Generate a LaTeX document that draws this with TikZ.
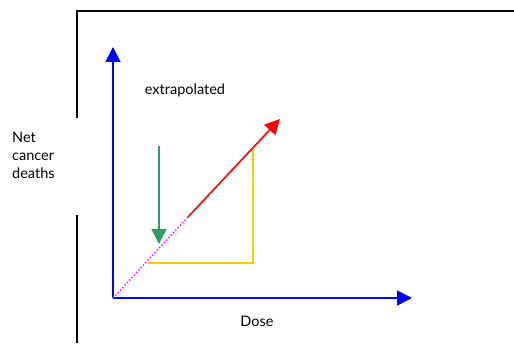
\documentclass[tikz,border=0pt]{standalone}
\usepackage{fontspec}
\setmainfont{Lato}
\usepackage{xcolor}
\usetikzlibrary{arrows.meta, positioning}

\definecolor{azul}{RGB}{0,0,255}
\definecolor{ouro}{RGB}{255,204,0}
\definecolor{verde}{RGB}{51,153,102}
\definecolor{rosa}{RGB}{255,0,255}

\begin{document}
\begin{tikzpicture}[
    x=1pt, y=1pt,
    >={Triangle[length=15pt,width=15pt]},
    moldura/.style={draw=black, line width=2pt},
    eixo/.style={->, draw=azul, line width=1.6pt},
    seta/.style={->, line width=1.6pt},
    rotulo/.style={font=\fontsize{14.5}{18}\selectfont, inner sep=0pt}
]
\useasboundingbox (0,0) rectangle (514,343);

% pontos de referencia
\coordinate (origem) at (113,45);
\coordinate (topoy) at (113,296);
\coordinate (fimx) at (412,45);
\coordinate (quebra) at (188,126);
\coordinate (pontared) at (280,224);
\coordinate (ouroA) at (148,80);
\coordinate (ouroB) at (253,80);
\coordinate (ouroC) at (253,194);
\coordinate (verdeA) at (159,197);
\coordinate (verdeB) at (159,99);
\coordinate (canto) at (77,332);
\coordinate (direita) at (514,332);
\coordinate (corteA) at (77,225);
\coordinate (corteB) at (77,128);
\coordinate (base) at (77,0);

% moldura
\draw[moldura] (direita) -- (canto) -- (corteA);
\draw[moldura] (corteB) -- (base);

% eixos
\draw[eixo] (origem) -- (topoy);
\draw[eixo] (origem) -- (fimx);

% curvas
\draw[rosa, line width=1.4pt, dotted] (origem) -- (quebra);
\draw[seta, red] (quebra) -- (pontared);
\draw[ouro, line width=1.6pt] (ouroA) -- (ouroB) -- (ouroC);
\draw[seta, verde] (verdeA) -- (verdeB);

% textos
\node[rotulo] (extrap) at (185,253) {extrapolated};
\node[rotulo, align=left, anchor=west] (mortes) at (12,188) {Net\\cancer\\deaths};
\node[rotulo] (dose) at (257,22) {Dose};

\end{tikzpicture}
\end{document}
